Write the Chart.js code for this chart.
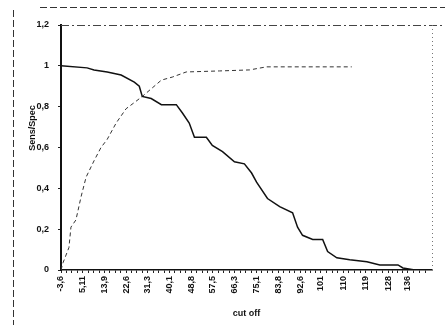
<!DOCTYPE html>
<html>
<head>
<meta charset="utf-8">
<script src="https://cdn.jsdelivr.net/npm/chart.js@4.4.1/dist/chart.umd.min.js"></script>
<style>
  html, body { margin: 0; padding: 0; background: #fff; }
  #wrap { width: 445px; height: 325px; position: relative; }
</style>
</head>
<body>
<div id="wrap"><canvas id="myChart" width="445" height="325"></canvas></div>
<script>
// cut off values (x) and curves
var sensX = [-3.6, 6.9, 9.7, 15.0, 20.6, 25.9, 27.9, 29.1, 32.7, 36.8, 42.8, 45.2, 48.0, 50.1, 54.9, 57.3, 61.4, 66.2, 70.2, 73.1, 75.1, 79.5, 84.4, 89.6, 91.6, 93.6, 97.7, 101.7, 103.7, 107.4, 112.6, 119.5, 124.7, 132.0, 134.0, 138.8]
var sensY = [1.0, 0.99, 0.98, 0.97, 0.955, 0.92, 0.90, 0.85, 0.84, 0.81, 0.81, 0.77, 0.72, 0.65, 0.65, 0.61, 0.58, 0.53, 0.52, 0.475, 0.43, 0.35, 0.31, 0.28, 0.21, 0.17, 0.15, 0.15, 0.09, 0.06, 0.05, 0.04, 0.025, 0.025, 0.01, 0.0]

var specX = [-3.6, -2.8, -0.4, 0.4, 2.4, 4.5, 6.5, 9.7, 12.5, 15.0, 18.6, 22.6, 25.9, 29.1, 36.8, 41.2, 46.8, 60.2, 72.3, 79.1, 100.5, 113.4]
var specY = [0.0, 0.035, 0.11, 0.21, 0.245, 0.36, 0.455, 0.535, 0.60, 0.64, 0.72, 0.79, 0.82, 0.85, 0.93, 0.945, 0.97, 0.975, 0.98, 0.995, 0.995, 0.995]

var xTickVals = [-3.6, 5.11, 13.9, 22.6, 31.3, 40.1, 48.8, 57.5, 66.3, 75.1, 83.8, 92.6, 101, 110, 119, 128, 136]
var xTickLabels = ['-3,6', '5,11', '13,9', '22,6', '31,3', '40,1', '48,8', '57,5', '66,3', '75,1', '83,8', '92,6', '101', '110', '119', '128', '136']

var yTickVals = [0, 0.2, 0.4, 0.6, 0.8, 1, 1.2]
var yTickLabels = ['0', '0,2', '0,4', '0,6', '0,8', '1', '1,2']

function pts(xs, ys) {
    var out = []
    for (var i = 0; i < xs.length; i++) out.push({x: xs[i], y: ys[i]})
    return out
}

// scan frame lines, plot borders and the y title
var framePlugin = {
    id: 'frame',
    afterDraw: function(chart) {
        var c = chart.ctx, a = chart.chartArea
        c.save()
        c.strokeStyle = '#333'
        c.lineWidth = 1
        c.setLineDash([7, 3])
        c.beginPath(); c.moveTo(40, 7.5); c.lineTo(445, 7.5); c.stroke()
        c.beginPath(); c.moveTo(13.5, 10); c.lineTo(13.5, 325); c.stroke()
        c.setLineDash([8, 3, 2, 3])
        c.strokeStyle = '#444'
        c.beginPath(); c.moveTo(a.left, a.top + 0.5); c.lineTo(442, a.top + 0.5); c.stroke()
        c.setLineDash([1, 3])
        c.strokeStyle = '#777'
        c.beginPath(); c.moveTo(a.right + 0.5, a.top); c.lineTo(a.right + 0.5, a.bottom); c.stroke()
        c.setLineDash([])
        c.translate(33, 128)
        c.rotate(-Math.PI / 2)
        c.fillStyle = '#111'
        c.font = 'bold 9px "Liberation Sans"'
        c.textAlign = 'center'
        c.textBaseline = 'middle'
        c.fillText('Sens/Spec', 0, 0)
        c.restore()
    }
}

var tickFont = {family: 'Liberation Sans', size: 9, weight: 'bold'}

var myChart = document.getElementById('myChart').getContext('2d')
var chart = new Chart(myChart, {
    type: 'line',
    data: {
        datasets: [
            {
                label: 'Sens',
                data: pts(sensX, sensY),
                borderColor: '#111',
                borderWidth: 1.5,
                pointRadius: 0,
                tension: 0,
                fill: false
            },
            {
                label: 'Spec',
                data: pts(specX, specY),
                borderColor: '#333',
                borderWidth: 1,
                borderDash: [4, 3],
                pointRadius: 0,
                tension: 0,
                fill: false
            }
        ]
    },
    options: {
        responsive: false,
        animation: false,
        layout: {padding: {left: 14, top: 25, right: 13, bottom: 0}},
        plugins: {legend: {display: false}, tooltip: {enabled: false}},
        scales: {
            x: {
                type: 'linear',
                min: -3.6,
                max: 145.7,
                afterBuildTicks: function(scale) {
                    var t = []
                    for (var i = 0; i < xTickVals.length; i++) {
                        t.push({value: xTickVals[i]})
                        var next = i < xTickVals.length - 1 ? xTickVals[i + 1] : 145.7
                        var d = (next - xTickVals[i]) / 4
                        for (var k = 1; k < 4; k++) t.push({value: xTickVals[i] + d * k})
                    }
                    scale.ticks = t
                },
                afterFit: function(scale) { scale.height = 55 },
                border: {display: true, color: '#111', width: 1.5},
                grid: {display: true, drawOnChartArea: false, drawTicks: true, tickLength: 3, color: '#222'},
                ticks: {
                    autoSkip: false,
                    minRotation: 90,
                    maxRotation: 90,
                    padding: 3,
                    color: '#111',
                    font: tickFont,
                    callback: function(v) {
                        var i = xTickVals.indexOf(v)
                        return i >= 0 ? xTickLabels[i] : ''
                    }
                },
                title: {display: true, text: 'cut off', color: '#111', font: {family: 'Liberation Sans', size: 9, weight: 'bold'}, padding: {top: 4, bottom: 6}}
            },
            y: {
                min: 0,
                max: 1.2,
                afterBuildTicks: function(scale) {
                    scale.ticks = yTickVals.map(function(v) { return {value: v} })
                },
                afterFit: function(scale) { scale.width = 47 },
                border: {display: true, color: '#111', width: 2},
                grid: {display: true, drawOnChartArea: false, drawTicks: true, tickLength: 3, color: '#222'},
                ticks: {
                    padding: 9,
                    color: '#111',
                    font: tickFont,
                    callback: function(v) {
                        var i = yTickVals.indexOf(v)
                        return i >= 0 ? yTickLabels[i] : ''
                    }
                }
            }
        }
    },
    plugins: [framePlugin]
})
</script>
</body>
</html>
